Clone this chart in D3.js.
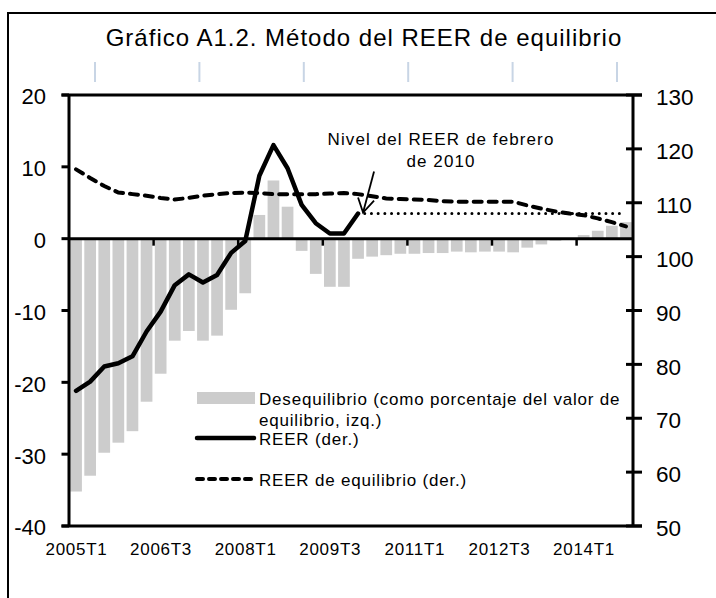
<!DOCTYPE html>
<html>
<head>
<meta charset="utf-8">
<script src="https://cdn.jsdelivr.net/npm/d3@7"></script>
<style>
  html, body { margin: 0; padding: 0; background: #fff; }
  svg { display: block; font-family: "Liberation Sans", Arial, sans-serif; }
</style>
</head>
<body>
<svg id="chart" width="716" height="598"></svg>
<script>
// Quarterly periods
const categories = [
  "2005T1","2005T2","2005T3","2005T4","2006T1","2006T2","2006T3","2006T4",
  "2007T1","2007T2","2007T3","2007T4","2008T1","2008T2","2008T3","2008T4",
  "2009T1","2009T2","2009T3","2009T4","2010T1","2010T2","2010T3","2010T4",
  "2011T1","2011T2","2011T3","2011T4","2012T1","2012T2","2012T3","2012T4",
  "2013T1","2013T2","2013T3","2013T4","2014T1","2014T2","2014T3","2014T4"
];
const xTickLabels = ["2005T1","2006T3","2008T1","2009T3","2011T1","2012T3","2014T1"];

// Desequilibrio (% of equilibrium value, left axis)
const desequilibrio = [
  -35.2, -33.0, -29.8, -28.4, -26.8, -22.7, -18.8, -14.2, -12.85, -14.2,
  -13.5, -9.9, -7.6, 3.3, 8.1, 4.45, -1.7, -4.9, -6.7, -6.7,
  -2.8, -2.5, -2.3, -2.1, -2.1, -2.0, -2.0, -1.8, -1.9, -1.8,
  -1.8, -1.9, -1.25, -0.8, -0.3, 0.0, 0.5, 1.1, 1.8, 2.3
];

// REER (right axis), 2005T1 to 2010T1
const reer = [
  75.1, 76.8, 79.6, 80.2, 81.5, 86.1, 89.8, 94.7, 96.7, 95.2,
  96.6, 100.7, 102.9, 115.0, 120.7, 116.4, 109.6, 106.2, 104.3, 104.3,
  108.0
];

// Equilibrium REER (right axis)
const reerEquilibrio = [
  116.2, 114.6, 113.1, 111.9, 111.6, 111.3, 110.9, 110.6, 110.9, 111.3,
  111.6, 111.8, 111.9, 111.8, 111.6, 111.6, 111.6, 111.6, 111.7, 111.8,
  111.6, 111.2, 110.8, 110.7, 110.6, 110.5, 110.3, 110.2, 110.2, 110.2,
  110.2, 110.2, 109.5, 108.9, 108.4, 108.0, 107.7, 107.1, 106.4, 105.6
];

// February 2010 REER level held flat, 2010T1 to 2014T4
const nivelFeb2010 = [
  108.0, 108.0, 108.0, 108.0, 108.0, 108.0, 108.0, 108.0, 108.0, 108.0,
  108.0, 108.0, 108.0, 108.0, 108.0, 108.0, 108.0, 108.0, 108.0, 108.0
];

const leftTicks = [-40, -30, -20, -10, 0, 10, 20];
const rightTicks = [50, 60, 70, 80, 90, 100, 110, 120, 130];

const svg = d3.select("#chart");
const plot = { left: 69, right: 633, top: 95, bottom: 526 };

const x = d3.scaleBand()
  .domain(categories)
  .range([plot.left, plot.right])
  .paddingInner(0.17)
  .paddingOuter(0.085);
const yL = d3.scaleLinear().domain([-40, 20]).range([plot.bottom, plot.top]);
const yR = d3.scaleLinear().domain([50, 130]).range([plot.bottom, plot.top]);
const cx = c => x(c) + x.bandwidth() / 2;

// Outer frame
svg.append("rect")
  .attr("x", 8).attr("y", 13).attr("width", 730).attr("height", 620)
  .attr("fill", "none").attr("stroke", "#000").attr("stroke-width", 2);

// Title
svg.append("text")
  .attr("x", 364).attr("y", 46)
  .attr("text-anchor", "middle")
  .attr("font-size", 24)
  .attr("letter-spacing", 1)
  .text("Gráfico A1.2. Método del REER de equilibrio");

// Light guide strokes under the title
const guide = d3.scaleLinear().domain([0, 5]).range([95, 617]);
svg.append("g").selectAll("line")
  .data(d3.range(6))
  .join("line")
  .attr("x1", d => guide(d)).attr("x2", d => guide(d))
  .attr("y1", 62).attr("y2", 82)
  .attr("stroke", "#c8d5e5").attr("stroke-width", 2);

// Bars
svg.append("g").selectAll("rect")
  .data(desequilibrio)
  .join("rect")
  .attr("x", (d, i) => x(categories[i]))
  .attr("width", x.bandwidth())
  .attr("y", d => yL(Math.max(0, d)))
  .attr("height", d => Math.abs(yL(d) - yL(0)))
  .attr("fill", "#cccccc");

// Plot border top/bottom, extending across the tick marks
[plot.top, plot.bottom].forEach(yy => {
  svg.append("line")
    .attr("x1", plot.left - 7.5).attr("x2", plot.right + 9)
    .attr("y1", yy).attr("y2", yy)
    .attr("stroke", "#000").attr("stroke-width", 3);
});

// Left axis
const gl = svg.append("g");
gl.append("line")
  .attr("x1", plot.left).attr("x2", plot.left)
  .attr("y1", plot.top).attr("y2", plot.bottom)
  .attr("stroke", "#000").attr("stroke-width", 3);
gl.selectAll("line.tick").data(leftTicks).join("line")
  .attr("class", "tick")
  .attr("x1", plot.left - 7.5).attr("x2", plot.left)
  .attr("y1", d => yL(d)).attr("y2", d => yL(d))
  .attr("stroke", "#000").attr("stroke-width", 3);
gl.selectAll("text").data(leftTicks).join("text")
  .attr("x", plot.left - 23).attr("y", d => yL(d))
  .attr("dy", "0.43em")
  .attr("text-anchor", "end")
  .attr("font-size", 22)
  .text(d => d);

// Right axis
const gr = svg.append("g");
gr.append("line")
  .attr("x1", plot.right).attr("x2", plot.right)
  .attr("y1", plot.top).attr("y2", plot.bottom)
  .attr("stroke", "#000").attr("stroke-width", 3);
gr.selectAll("line.tick").data(rightTicks).join("line")
  .attr("class", "tick")
  .attr("x1", plot.right - 7).attr("x2", plot.right + 9)
  .attr("y1", d => yR(d)).attr("y2", d => yR(d))
  .attr("stroke", "#000").attr("stroke-width", 3);
gr.selectAll("text").data(rightTicks).join("text")
  .attr("x", plot.right + 23).attr("y", d => yR(d))
  .attr("dy", "0.45em")
  .attr("text-anchor", "start")
  .attr("font-size", 22.5)
  .text(d => d);

// Category axis on the zero line
const y0 = yL(0);
svg.append("line")
  .attr("x1", plot.left).attr("x2", plot.right)
  .attr("y1", y0).attr("y2", y0)
  .attr("stroke", "#000").attr("stroke-width", 3);
const boundaryIdx = [6, 12, 18, 24, 30, 36];
svg.append("g").selectAll("line")
  .data(boundaryIdx)
  .join("line")
  .attr("x1", d => x(categories[d]) - x.step() * x.paddingInner() / 2)
  .attr("x2", d => x(categories[d]) - x.step() * x.paddingInner() / 2)
  .attr("y1", y0).attr("y2", y0 + 7)
  .attr("stroke", "#000").attr("stroke-width", 2.5);

// Category labels below the plot
svg.append("g").selectAll("text")
  .data(xTickLabels)
  .join("text")
  .attr("x", d => cx(d) + 0.4)
  .attr("y", 555)
  .attr("text-anchor", "middle")
  .attr("font-size", 17)
  .attr("letter-spacing", 0.7)
  .text(d => d);

// Equilibrium REER (dashed)
const lineR = d3.line()
  .x(d => cx(d.c))
  .y(d => yR(d.v));
svg.append("path")
  .datum(reerEquilibrio.map((v, i) => ({ c: categories[i], v })))
  .attr("d", lineR)
  .attr("fill", "none")
  .attr("stroke", "#000")
  .attr("stroke-width", 4)
  .attr("stroke-dasharray", "8,7")
  .attr("stroke-linecap", "round");

// February 2010 level (dotted)
const offset = categories.length - nivelFeb2010.length;
svg.append("path")
  .datum(nivelFeb2010.map((v, i) => ({ c: categories[i + offset], v })))
  .attr("d", lineR)
  .attr("fill", "none")
  .attr("stroke", "#000")
  .attr("stroke-width", 3)
  .attr("stroke-dasharray", "0,6.7")
  .attr("stroke-linecap", "round");

// REER (solid)
svg.append("path")
  .datum(reer.map((v, i) => ({ c: categories[i], v })))
  .attr("d", lineR)
  .attr("fill", "none")
  .attr("stroke", "#000")
  .attr("stroke-width", 4.5)
  .attr("stroke-linejoin", "round")
  .attr("stroke-linecap", "round");

// Annotation
const ann = svg.append("g").attr("font-size", 17).attr("letter-spacing", 1.1);
ann.append("text").attr("x", 441).attr("y", 145).attr("text-anchor", "middle")
  .text("Nivel del REER de febrero");
ann.append("text").attr("x", 441).attr("y", 167).attr("text-anchor", "middle")
  .text("de 2010");
const tip = { x: cx(categories[20]) + 5, y: yR(nivelFeb2010[0]) - 1 };
const tail = { x: tip.x + 11, y: tip.y - 41 };
ann.append("line")
  .attr("x1", tail.x).attr("y1", tail.y).attr("x2", tip.x).attr("y2", tip.y)
  .attr("stroke", "#000").attr("stroke-width", 1.8);
ann.append("path")
  .attr("d", `M${tip.x - 5},${tip.y - 15} L${tip.x},${tip.y} L${tip.x + 11},${tip.y - 12}`)
  .attr("fill", "none").attr("stroke", "#000").attr("stroke-width", 1.8);

// Legend
const lg = svg.append("g").attr("font-size", 17).attr("letter-spacing", 0.8);
lg.append("rect").attr("x", 197).attr("y", 392).attr("width", 58).attr("height", 12)
  .attr("fill", "#cccccc");
lg.append("text").attr("x", 259).attr("y", 405)
  .text("Desequilibrio (como porcentaje del valor de");
lg.append("text").attr("x", 259).attr("y", 426)
  .text("equilibrio, izq.)");
lg.append("line").attr("x1", 197).attr("x2", 254).attr("y1", 438).attr("y2", 438)
  .attr("stroke", "#000").attr("stroke-width", 4.5).attr("stroke-linecap", "round");
lg.append("text").attr("x", 259).attr("y", 445).text("REER (der.)");
lg.append("line").attr("x1", 197).attr("x2", 254).attr("y1", 479).attr("y2", 479)
  .attr("stroke", "#000").attr("stroke-width", 4).attr("stroke-dasharray", "6,6")
  .attr("stroke-linecap", "round");
lg.append("text").attr("x", 259).attr("y", 486).text("REER de equilibrio (der.)");
</script>
</body>
</html>
